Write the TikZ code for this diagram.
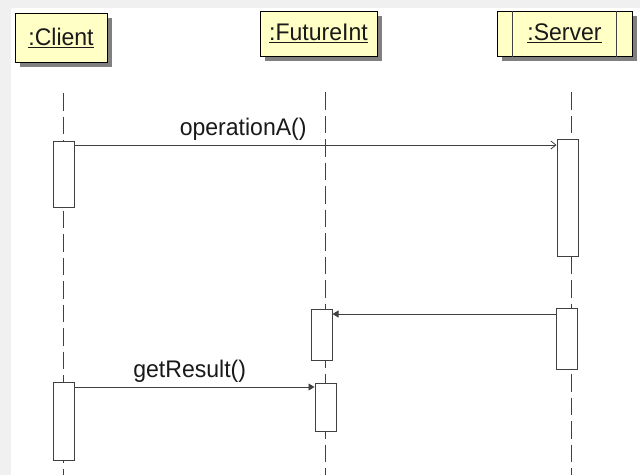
\documentclass[tikz,border=0pt]{standalone}
\usepackage{fontspec}
\setmainfont{Liberation Sans}[FakeStretch=0.96]
\usetikzlibrary{arrows.meta}
\usetikzlibrary{shadows}
\definecolor{boxyellow}{HTML}{FFFFC6}
\definecolor{framegray}{HTML}{F0F0F0}
\definecolor{linegray}{HTML}{404040}

\begin{document}
\begin{tikzpicture}[x=1pt, y=-1pt,
    every node/.style={font=\fontsize{24}{28}\selectfont, text=black!90},
    header/.style={draw=black, line width=1pt, fill=boxyellow, inner sep=0pt,
        drop shadow={shadow xshift=5pt, shadow yshift=-5pt, fill=black!50, opacity=1}},
    lifeline/.style={draw=linegray, line width=1pt, dash pattern=on 17.5pt off 6pt},
    act/.style={draw=linegray, line width=1pt, fill=white, minimum width=21pt, inner sep=0pt},
    call/.style={draw=linegray, line width=0.8pt, -{Straight Barb[length=5pt,width=8pt]}},
    ret/.style={draw=linegray, line width=0.8pt, -{Triangle[length=6pt,width=7pt]}},
    msglabel/.style={anchor=base, yshift=9.5pt}]
    \useasboundingbox (0,0) rectangle (640,475);
    \fill[framegray] (0,0) rectangle (640,475);
    \fill[white] (11,8) rectangle (640,475);
    % lifelines
    \coordinate (bot) at (0,475);
    \coordinate (cl) at (63,93);
    \coordinate (fl) at (325,92);
    \coordinate (sl) at (571,92);
    \draw[lifeline] (cl) -- (cl |- bot);
    \draw[lifeline] (fl) -- (fl |- bot);
    \draw[lifeline] (sl) -- (sl |- bot);
    % objects
    \node[header, minimum width=92pt, minimum height=49pt] (client) at (61,37.5) {\underline{:Client}};
    \node[header, minimum width=117pt, minimum height=45pt] (future) at (318.5,33.5) {\underline{:FutureInt}};
    \node[header, minimum width=135pt, minimum height=45pt] (server) at (564.5,33.5) {\underline{:Server}};
    \draw[linegray] ([xshift=16pt]server.north west) -- ([xshift=16pt]server.south west);
    \draw[linegray] ([xshift=-16pt]server.north east) -- ([xshift=-16pt]server.south east);
    % activations
    \node[act, minimum height=66pt] (c1) at (63.5,174) {};
    \node[act, minimum height=117pt] (s1) at (567.5,197.5) {};
    \node[act, minimum height=51pt] (f1) at (321.5,334.5) {};
    \node[act, minimum height=61pt] (s2) at (567,338.5) {};
    \node[act, minimum height=78pt] (c2) at (63.5,421) {};
    \node[act, minimum height=48pt] (f2) at (325.5,407) {};
    % messages
    \coordinate (y1) at (0,145);
    \coordinate (y2) at (0,314);
    \coordinate (y3) at (0,387);
    \draw[call] (c1.east |- y1) -- (s1.west |- y1) node[msglabel, pos=0.35] {operationA()};
    \draw[ret] (s2.west |- y2) -- (f1.east |- y2);
    \draw[ret] (c2.east |- y3) -- (f2.west |- y3) node[msglabel, pos=0.48] {getResult()};
\end{tikzpicture}
\end{document}
